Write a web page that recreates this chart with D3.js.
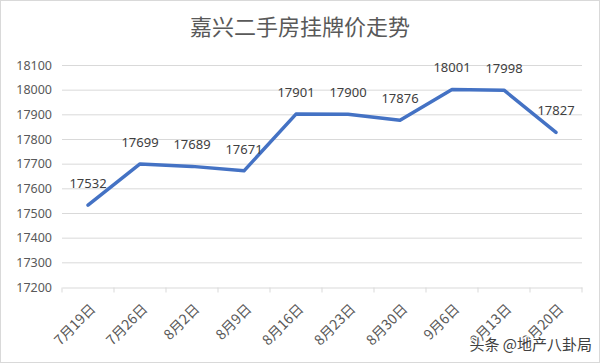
<!DOCTYPE html>
<html>
<head>
<meta charset="utf-8">
<script src="https://cdn.jsdelivr.net/npm/d3@7"></script>
<style>
  body { margin: 0; background: #fff; }
  text { font-family: "Noto Sans CJK SC", "Noto Sans", sans-serif; }
</style>
</head>
<body>
<div id="chart"></div>
<script>
'use strict';

var categories = ['7月19日', '7月26日', '8月2日', '8月9日', '8月16日', '8月23日', '8月30日', '9月6日', '9月13日', '9月20日'];
var prices = [17532, 17699, 17689, 17671, 17901, 17900, 17876, 18001, 17998, 17827];
var yTicks = [17200, 17300, 17400, 17500, 17600, 17700, 17800, 17900, 18000, 18100];
var title = '嘉兴二手房挂牌价走势';
var watermark = '头条 @地产八卦局';

var width = 600;
var height = 363;
var textColor = '#595959';
var gridColor = '#d9d9d9';
var lineColor = '#4472c4';

var svg = d3.select('#chart').append('svg').attr('width', width).attr('height', height);

// outer border
svg.append('rect').attr('x', 0.5).attr('y', 0.5).attr('width', width - 1).attr('height', height - 1)
  .attr('fill', '#fff').attr('stroke', gridColor);

var x = d3.scaleBand().domain(categories).range([62, 582]);
var y = d3.scaleLinear().domain([17200, 18100]).range([287, 65]);

// title
svg.append('text').attr('x', 300).attr('y', 35).attr('text-anchor', 'middle')
  .attr('font-size', 22).attr('fill', textColor).text(title);

// grid
svg.append('g').selectAll('line').data(yTicks.slice(1)).enter().append('line')
  .attr('x1', 62).attr('x2', 582)
  .attr('y1', function (d) { return y(d) + 0.5; }).attr('y2', function (d) { return y(d) + 0.5; })
  .attr('stroke', gridColor).attr('stroke-width', 1);

// y axis labels
var yAxis = d3.axisLeft(y).tickValues(yTicks).tickSize(0).tickPadding(10).tickFormat(d3.format('d'));
var yg = svg.append('g').attr('transform', 'translate(62,0)').call(yAxis);
yg.select('.domain').remove();
yg.selectAll('text').attr('font-size', 12.5).attr('fill', textColor)
  .style('font-family', '"Noto Sans", sans-serif');

// x axis
var xAxis = d3.axisBottom(x).tickSize(0).tickPadding(0);
var xg = svg.append('g').attr('transform', 'translate(0,' + (y(17200) + 0.5) + ')').call(xAxis);
xg.select('.domain').attr('stroke', gridColor);
xg.selectAll('.tick text')
  .attr('font-size', 14).attr('fill', textColor)
  .attr('text-anchor', 'end').attr('dy', '0.35em')
  .attr('transform', 'translate(5,19) rotate(-45)');

// category boundary ticks
var bounds = categories.map(function (c) { return x(c); }).concat([x.range()[1]]);
xg.selectAll('line.bound').data(bounds).enter().append('line').attr('class', 'bound')
  .attr('x1', function (d) { return d; }).attr('x2', function (d) { return d; })
  .attr('y1', 0).attr('y2', 5).attr('stroke', gridColor);

// line
var cx = function (d, i) { return x(categories[i]) + x.bandwidth() / 2; };
var line = d3.line().x(function (d, i) { return cx(d, i); }).y(function (d) { return y(d); });
svg.append('path').datum(prices).attr('d', line)
  .attr('fill', 'none').attr('stroke', lineColor).attr('stroke-width', 3.5)
  .attr('stroke-linejoin', 'round').attr('stroke-linecap', 'round');

// data labels
svg.append('g').selectAll('text').data(prices).enter().append('text')
  .attr('x', function (d, i) { return cx(d, i); })
  .attr('y', function (d) { return y(d) - 17; })
  .attr('text-anchor', 'middle').attr('font-size', 13).attr('fill', '#404040')
  .style('font-family', '"Noto Sans", sans-serif')
  .text(function (d) { return d; });

// watermark
svg.append('text').attr('x', 592).attr('y', 350).attr('text-anchor', 'end')
  .attr('font-size', 15).attr('fill', '#404040')
  .style('paint-order', 'stroke').attr('stroke', '#fff').attr('stroke-width', 2)
  .text(watermark);
</script>
</body>
</html>
